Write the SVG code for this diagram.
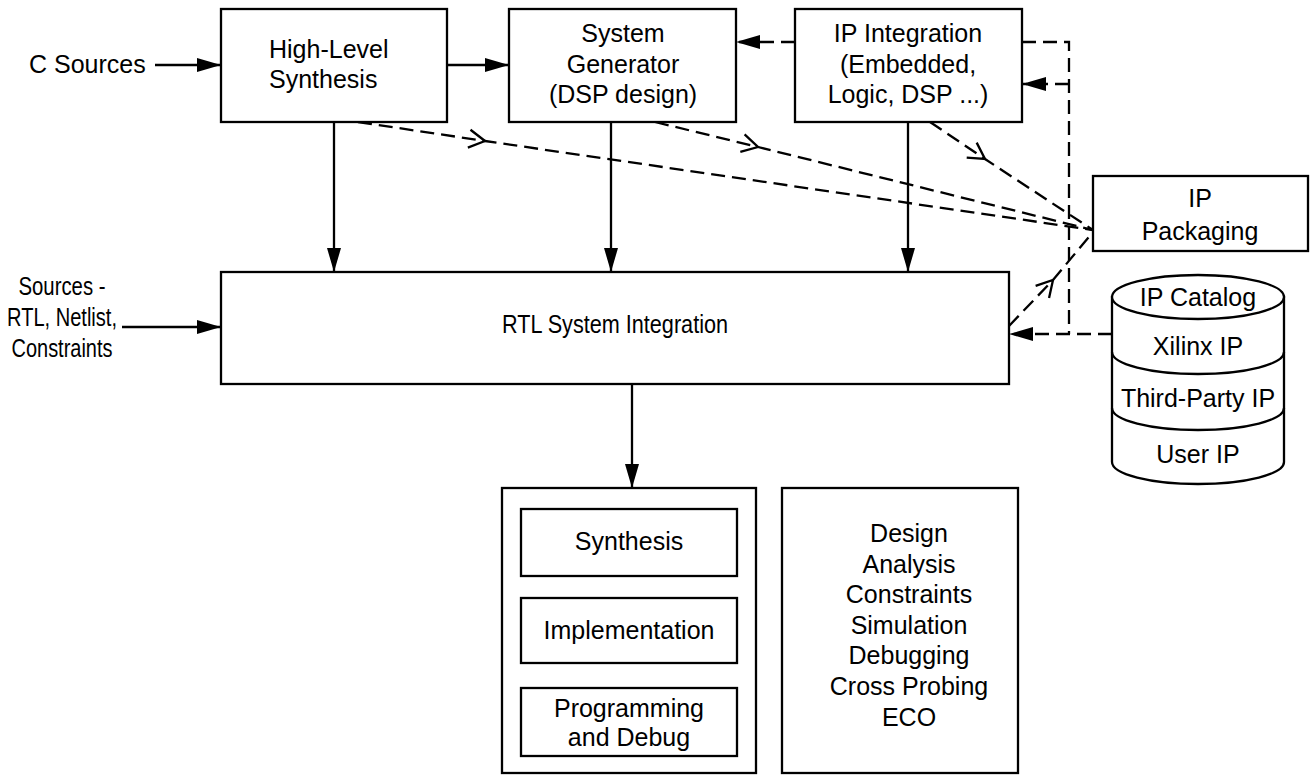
<svg xmlns="http://www.w3.org/2000/svg" width="1312" height="775" viewBox="0 0 1312 775">
<style>
  .box{fill:#fff;stroke:#000;stroke-width:2.3}
  .t{font-family:"Liberation Sans",Arial,sans-serif;font-size:25px;fill:#000}
  .c{text-anchor:middle}
  .ln{fill:none;stroke:#000;stroke-width:2.3}
  .dash{fill:none;stroke:#000;stroke-width:2.3;stroke-dasharray:14 7}
</style>
<defs>
  <marker id="ah" markerUnits="userSpaceOnUse" markerWidth="26" markerHeight="16" refX="24" refY="7" orient="auto" viewBox="0 0 26 16">
    <path d="M0,0 L24,7 L0,14 z" fill="#000"/>
  </marker>
  <marker id="chev" markerUnits="userSpaceOnUse" markerWidth="24" markerHeight="24" refX="18" refY="12" orient="auto" viewBox="0 0 24 24">
    <path d="M2,3 L18,12 L2,21" fill="none" stroke="#000" stroke-width="2.3"/>
  </marker>
</defs>
<rect width="1312" height="775" fill="#fff"/>

<g id="connectors">
  <line class="ln" x1="155" y1="65" x2="221" y2="65" marker-end="url(#ah)"/>
  <line class="ln" x1="447" y1="65" x2="509" y2="65" marker-end="url(#ah)"/>
  <line class="ln" x1="334" y1="122" x2="334" y2="272" marker-end="url(#ah)"/>
  <line class="ln" x1="611" y1="122" x2="611" y2="272" marker-end="url(#ah)"/>
  <line class="ln" x1="908" y1="122" x2="908" y2="272" marker-end="url(#ah)"/>
  <line class="ln" x1="122" y1="327" x2="221" y2="327" marker-end="url(#ah)"/>
  <line class="ln" x1="632" y1="384" x2="632" y2="488" marker-end="url(#ah)"/>
  <path class="dash" d="M795,42 H736" marker-end="url(#ah)"/>
  <path class="dash" d="M1022,42 H1069 V334"/>
  <path class="dash" d="M1069,84 H1022" marker-end="url(#ah)"/>
  <path class="dash" d="M1112,334 H1009" marker-end="url(#ah)"/>
  <polyline class="dash" points="358,122 485,141 1093,230" marker-mid="url(#chev)"/>
  <polyline class="dash" points="655,122 758,147 1093,230" marker-mid="url(#chev)"/>
  <polyline class="dash" points="930,122 985,159 1093,230" marker-mid="url(#chev)"/>
  <polyline class="dash" points="1009,326 1053,280 1093,232" marker-mid="url(#chev)"/>
</g>

<g id="c-sources"><text class="t" x="29" y="73">C Sources</text></g>

<g id="hls">
  <rect class="box" x="221" y="9" width="226" height="113"/>
  <text class="t" x="269" y="58">High-Level</text>
  <text class="t" x="269" y="88">Synthesis</text>
</g>

<g id="sysgen">
  <rect class="box" x="509" y="9" width="227" height="113"/>
  <text class="t c" x="623" y="42">System</text>
  <text class="t c" x="623" y="73">Generator</text>
  <text class="t c" x="623" y="103">(DSP design)</text>
</g>

<g id="ipint">
  <rect class="box" x="795" y="9" width="227" height="113"/>
  <text class="t c" x="908" y="42">IP Integration</text>
  <text class="t c" x="908" y="73">(Embedded,</text>
  <text class="t c" x="908" y="103">Logic, DSP ...)</text>
</g>

<g id="ippack">
  <rect class="box" x="1093" y="176" width="215" height="75"/>
  <text class="t c" x="1200" y="207">IP</text>
  <text class="t c" x="1200" y="240">Packaging</text>
</g>

<g id="sources-label">
  <text class="t c" x="62" y="295" textLength="87" lengthAdjust="spacingAndGlyphs">Sources -</text>
  <text class="t c" x="62" y="326" textLength="110" lengthAdjust="spacingAndGlyphs">RTL, Netlist,</text>
  <text class="t c" x="62" y="357" textLength="101" lengthAdjust="spacingAndGlyphs">Constraints</text>
</g>

<g id="rtl">
  <rect class="box" x="221" y="272" width="788" height="112"/>
  <text class="t c" x="615" y="333" textLength="226" lengthAdjust="spacingAndGlyphs">RTL System Integration</text>
</g>

<g id="catalog">
  <path class="box" d="M1112,297 V462 A86,22 0 0 0 1284,462 V297 z"/>
  <ellipse class="box" cx="1198" cy="297" rx="86" ry="22"/>
  <path class="ln" d="M1112,352 A86,22 0 0 0 1284,352"/>
  <path class="ln" d="M1112,408 A86,22 0 0 0 1284,408"/>
  <text class="t c" x="1198" y="306">IP Catalog</text>
  <text class="t c" x="1198" y="355">Xilinx IP</text>
  <text class="t c" x="1198" y="407">Third-Party IP</text>
  <text class="t c" x="1198" y="463">User IP</text>
</g>

<g id="impl-flow">
  <rect class="box" x="502" y="488" width="254" height="285"/>
  <g id="synth">
    <rect class="box" x="521" y="509" width="216" height="67"/>
    <text class="t c" x="629" y="550">Synthesis</text>
  </g>
  <g id="implementation">
    <rect class="box" x="521" y="598" width="216" height="65"/>
    <text class="t c" x="629" y="639">Implementation</text>
  </g>
  <g id="prog">
    <rect class="box" x="521" y="688" width="216" height="68"/>
    <text class="t c" x="629" y="717">Programming</text>
    <text class="t c" x="629" y="746">and Debug</text>
  </g>
</g>

<g id="analysis">
  <rect class="box" x="782" y="488" width="236" height="285"/>
  <text class="t c" x="909" y="542">Design</text>
  <text class="t c" x="909" y="573">Analysis</text>
  <text class="t c" x="909" y="603">Constraints</text>
  <text class="t c" x="909" y="634">Simulation</text>
  <text class="t c" x="909" y="664">Debugging</text>
  <text class="t c" x="909" y="695">Cross Probing</text>
  <text class="t c" x="909" y="726">ECO</text>
</g>
</svg>
